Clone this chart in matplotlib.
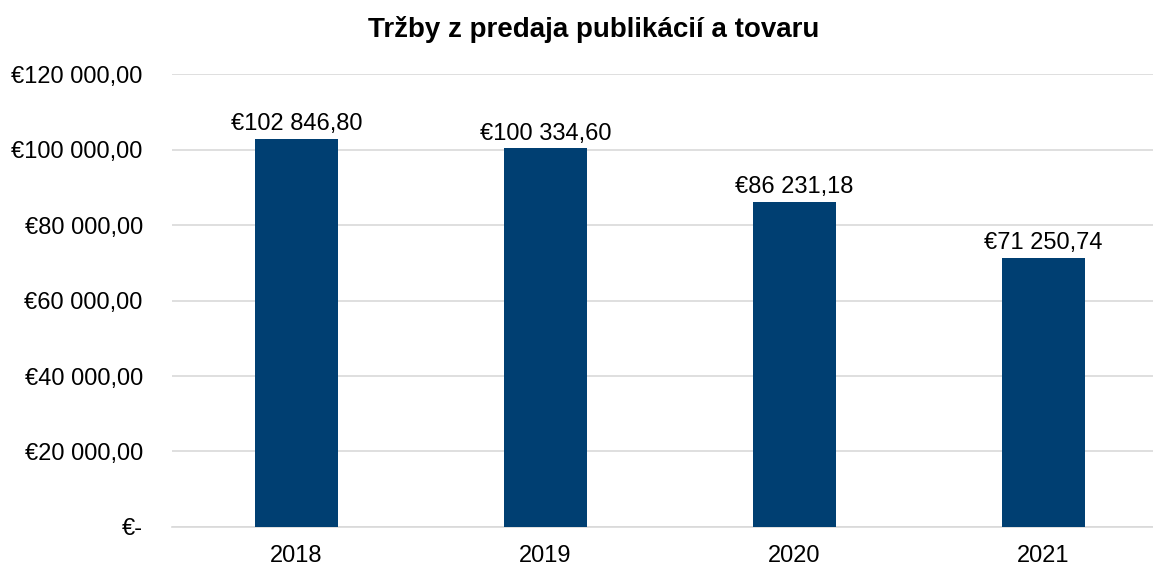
import matplotlib.pyplot as plt
from matplotlib.ticker import FuncFormatter

plt.rcParams['font.family'] = ['Liberation Sans', 'DejaVu Sans']

years = ['2018', '2019', '2020', '2021']
revenue = [102846.80, 100334.60, 86231.18, 71250.74]
yticks = [0, 20000, 40000, 60000, 80000, 100000, 120000]


def eur(v):
    if v == 0:
        return '€-'
    s = f'{v:,.2f}'.replace(',', ' ').replace('.', ',')
    return '€' + s


fig = plt.figure(figsize=(11.53, 5.66), dpi=100)
ax = fig.add_axes([172 / 1153, 0.069, 981 / 1153, 0.8])

x = range(len(years))
ax.bar(x, revenue, width=0.335, color='#003F72', zorder=3)

for xi, v in zip(x, revenue):
    ax.text(xi, v + 1000, eur(v), ha='center', va='bottom', fontsize=17)

ax.set_xticks(list(x))
ax.set_xticklabels(years, fontsize=17)
ax.set_xlim(-0.5, 3.44)
ax.set_ylim(0, 120000)
ax.set_yticks(yticks)
ax.yaxis.set_major_formatter(FuncFormatter(lambda v, p: eur(v)))
ax.tick_params(axis='y', labelsize=17, length=0, pad=21)
ax.tick_params(axis='x', length=0, pad=13)
ax.grid(axis='y', color='#D9D9D9', linewidth=1.2, zorder=0)
for side in ['top', 'right', 'left']:
    ax.spines[side].set_visible(False)
ax.spines['bottom'].set_color('#D9D9D9')
ax.spines['bottom'].set_linewidth(1.2)

# title sits a little right of the figure centre in the original
fig.suptitle('Tržby z predaja publikácií a tovaru', fontsize=20,
             fontweight='bold', x=0.515, y=0.972)

fig.savefig('out.png', dpi=100)
